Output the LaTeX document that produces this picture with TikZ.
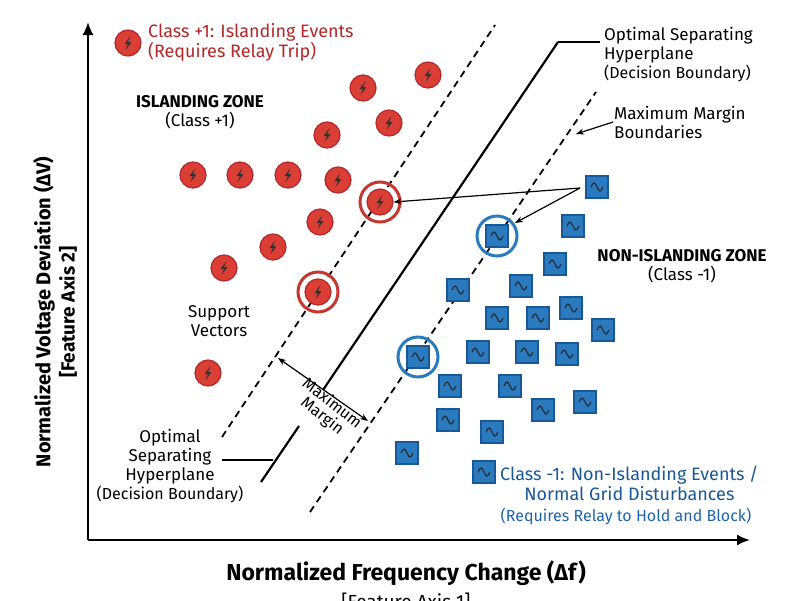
\documentclass[tikz,border=0pt]{standalone}
\usepackage{fontspec}
\setmainfont{Fira Sans}
\usetikzlibrary{arrows.meta, positioning}
\definecolor{redfill}{RGB}{218,62,52}
\definecolor{redtext}{RGB}{178,40,40}
\definecolor{bluefill}{RGB}{42,122,192}
\definecolor{blueline}{RGB}{24,88,150}
\definecolor{bluetext}{RGB}{30,100,170}
\tikzset{
  redpt/.style={circle, draw=redtext, line width=1.2pt, fill=redfill, minimum size=26pt, inner sep=0pt},
  bluept/.style={rectangle, draw=blueline, line width=1.2pt, fill=bluefill, minimum size=22pt, inner sep=0pt},
  support/.style={circle, draw=#1, line width=3pt, minimum size=40pt, inner sep=0pt},
  lbl/.style={font=\fontsize{17}{19}\selectfont, align=center, inner sep=1pt},
  margin/.style={line width=1.8pt, dash pattern=on 7pt off 5pt},
}
\newcommand{\bolt}[1]{\fill[black!80, shift={(#1)}] (2.5,-7)--(-3.5,1)--(0,1)--(-2.5,7)--(3.5,-1)--(0,-1)--cycle;}
\newcommand{\wave}[1]{\draw[black!85, line width=1.1pt, shift={(#1)}] (-6,0) sin (-3,-4) cos (0,0) sin (3,4) cos (6,0);}
\begin{document}
\begin{tikzpicture}[x=1pt, y=-1pt]
\useasboundingbox (0,0) rectangle (800,600);
% axes
\coordinate (o) at (88,540); \coordinate (ytop) at (88,22); \coordinate (xend) at (750,540);
\draw[line width=2pt, -{Latex[length=13pt,width=11pt]}] (o) -- (ytop);
\draw[line width=2pt, -{Latex[length=13pt,width=11pt]}] (o) -- (xend);
\node[font=\fontsize{23}{25}\selectfont\bfseries] (xlab) at (406,573) {Normalized Frequency Change (Δf)};
\node[font=\fontsize{19}{21}\selectfont, below=0pt of xlab] {[Feature Axis 1]};
\node[font=\fontsize{20}{22}\selectfont\bfseries, rotate=90] (ylab) at (44,312) {Normalized Voltage Deviation (ΔV)};
\node[font=\fontsize{19}{21}\selectfont\bfseries, rotate=90] at (68,312) {[Feature Axis 2]};
% boundaries
\coordinate (dl1) at (222,437); \coordinate (dl2) at (495,25);
\coordinate (dr1) at (310,512); \coordinate (dr2) at (596,92);
\coordinate (h1) at (261,482); \coordinate (h2) at (299,426); \coordinate (h3) at (323,390); \coordinate (h4) at (558,42);
\draw[margin] (dl1) -- (dl2);
\draw[margin] (dr1) -- (dr2);
\draw[line width=2.2pt] (h1) -- (h2) (h3) -- (h4);
% red points
\foreach \n/\p in {r1/{428,75}, r2/{363,88}, r3/{389,123}, r4/{327,135}, r5/{193,175}, r6/{240,175},
  r7/{288,175}, r8/{338,180}, r9/{320,222}, r10/{273,247}, r11/{224,268}, r12/{208,373},
  rs1/{380,202}, rs2/{318,292}, rleg/{128,43}}
  {\node[redpt] (\n) at (\p) {}; \bolt{\n}}
\node[support=redfill!90!black] at (rs1) {};
\node[support=redfill!90!black] at (rs2) {};
% blue points
\foreach \n/\p in {b1/{597,187}, b2/{573,226}, b3/{555,264}, b4/{458,290}, b5/{521,286}, b6/{571,308},
  b7/{497,318}, b8/{538,318}, b9/{603,330}, b10/{478,352}, b11/{527,352}, b12/{567,354},
  b13/{450,386}, b14/{510,386}, b15/{448,420}, b16/{543,410}, b17/{585,402}, b18/{492,432},
  b19/{407,453}, bs1/{497,236}, bs2/{418,357}, bleg/{484,472}}
  {\node[bluept] (\n) at (\p) {}; \wave{\n}}
\node[support=bluefill] at (bs1) {};
\node[support=bluefill] at (bs2) {};
% labels
\node[lbl, font=\fontsize{18}{19}\selectfont, text=redtext, align=left, anchor=west] at (147,42) {Class +1: Islanding Events\\(Requires Relay Trip)};
\node[lbl] at (200,112) {\textbf{ISLANDING ZONE}\\(Class +1)};
\node[lbl] at (682,266) {\textbf{NON-ISLANDING ZONE}\\(Class -1)};
\node[lbl, font=\fontsize{18}{20}\selectfont, text=blueline, anchor=west] at (499,483) {Class -1: Non-Islanding Events /\\Normal Grid Disturbances};
\node[lbl, font=\fontsize{16}{18}\selectfont, text=bluetext] at (626,516) {(Requires Relay to Hold and Block)};
\node[lbl] (sv) at (219,321) {Support\\Vectors};
\node[lbl, align=left, anchor=north west] (toplab) at (603,26) {Optimal Separating\\Hyperplane\\{\fontsize{16}{18}\selectfont(Decision Boundary)}};
\node[lbl, align=left, anchor=west] (mmb) at (613,122) {Maximum Margin\\Boundaries};
\node[lbl] (botlab) at (170,466) {Optimal\\Separating\\Hyperplane\\{\fontsize{16}{18}\selectfont(Decision Boundary)}};
\node[lbl, font=\fontsize{16}{16}\selectfont, rotate=-38] at (327,410) {Maximum\\Margin};
% connectors
\coordinate (arrsrc) at (580,188);
\coordinate (mm1) at (278,358); \coordinate (mm2) at (368,421);
\coordinate (lead1) at (222,460); \coordinate (lead2) at (273,460);
\draw[line width=1.2pt] (h4) -- (600,42);
\draw[line width=1.2pt] (lead1) -- (lead2);
\draw[line width=1.2pt, -{Stealth[length=8pt]}] (mmb.west) -- (576,134);
\draw[line width=1.2pt, -{Stealth[length=8pt]}] (arrsrc) -- (rs1.east);
\draw[line width=1.2pt, -{Stealth[length=8pt]}] (arrsrc) -- (515,223);
\draw[line width=1.2pt, {Stealth[length=8pt]}-{Stealth[length=8pt]}] (mm1) -- (mm2);
\end{tikzpicture}
\end{document}
